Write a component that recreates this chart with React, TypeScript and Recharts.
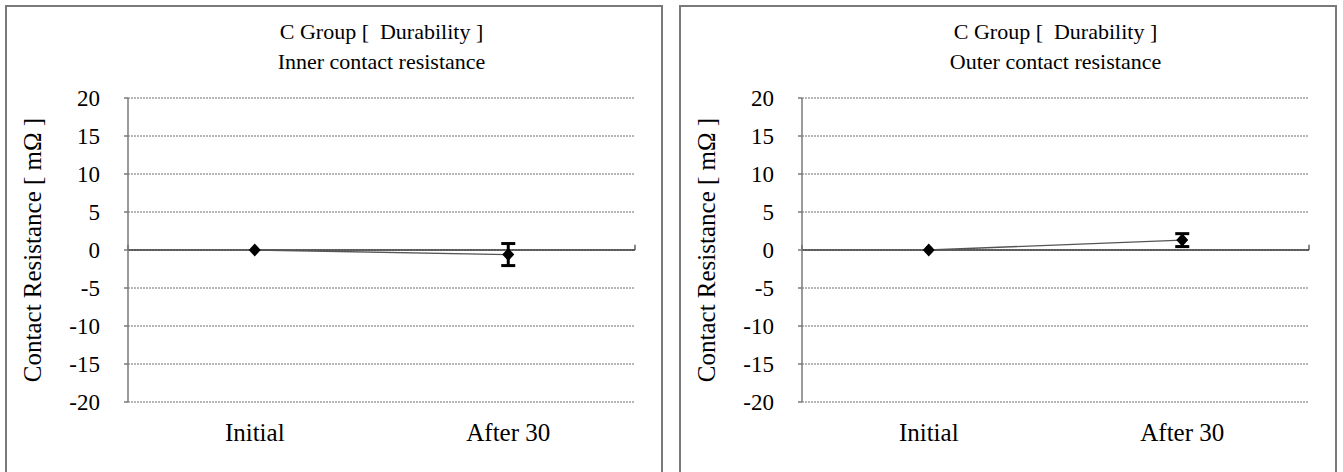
import type { FC } from 'react';
import { CartesianGrid, ErrorBar, Label, Line, LineChart, ReferenceArea, ReferenceLine, XAxis, YAxis } from 'recharts';

const categories = ['Initial', 'After 30'];
const innerMean = [0, -0.6];
const innerErr = [0, 1.45];
const outerMean = [0, 1.3];
const outerErr = [0, 0.85];
const yTicks = [-20, -15, -10, -5, 0, 5, 10, 15, 20];

const groupTitle = 'C Group [\u00a0 Durability ]';
const yTitle = 'Contact Resistance [ mΩ ]';

const serif = "'Liberation Serif', 'DejaVu Serif', 'Noto Serif', Tinos, 'Times New Roman', Times, serif";
const W = 658;
const H = 467;

const Diamond = (props: any) => {
	const { cx, cy, index } = props;
	if (cx == null || cy == null) return null;
	return <path key={`d-${index}`} d={`M${cx},${cy - 6.5} L${cx + 6},${cy} L${cx},${cy + 6.5} L${cx - 6},${cy} Z`} fill='#000' />;
};

interface IPanel {
	left: number;
	subtitle: string;
	means: number[];
	errs: number[];
}

const Panel: FC<IPanel> = ({ left, subtitle, means, errs }) => {
	const data = categories.map((name, i) => ({ name, value: means[i], err: errs[i] || null }));
	const bounds = categories.map((_, i) => i + 1).concat([0]);
	return (
		<div style={{ position: 'absolute', left, top: 5, width: W, height: H }}>
			<div
				style={{
					position: 'absolute',
					left: 0,
					top: 0,
					width: W,
					height: 480,
					border: '2px solid #7a7a7a',
					boxSizing: 'border-box'
				}}
			/>
			<div
				style={{
					position: 'absolute',
					left: 123,
					width: 507,
					top: 12,
					textAlign: 'center',
					fontFamily: serif,
					fontSize: 22,
					lineHeight: '30px',
					color: '#000'
				}}
			>
				<div>{groupTitle}</div>
				<div>{subtitle}</div>
			</div>
			<LineChart width={W} height={H} data={data} margin={{ top: 93, right: 28, bottom: 30, left: 0 }}>
				<CartesianGrid vertical={false} stroke='#6e6e6e' strokeDasharray='2 1' />
				<XAxis
					dataKey='name'
					scale='band'
					height={40}
					axisLine={false}
					tickLine={false}
					tickSize={0}
					tickMargin={21}
					tick={{ fill: '#000', fontFamily: serif, fontSize: 25 }}
				/>
				<XAxis xAxisId='grid' type='number' domain={[0, categories.length]} allowDataOverflow hide />
				<YAxis
					width={123}
					domain={[-20, 20]}
					ticks={yTicks}
					interval={0}
					allowDataOverflow
					axisLine={{ stroke: '#7a7a7a', strokeWidth: 1.5 }}
					tickLine={{ stroke: '#7a7a7a', strokeWidth: 1.5 }}
					tickSize={4}
					tickMargin={24}
					tick={{ fill: '#000', fontFamily: serif, fontSize: 23 }}
				>
					<Label
						content={(p: any) => {
							const vb = p.viewBox || { x: 0, y: 93, width: 123, height: 304 };
							const x = vb.x + 36;
							const y = vb.y + vb.height / 2;
							return (
								<text
									x={x}
									y={y}
									transform={`rotate(-90 ${x} ${y})`}
									textAnchor='middle'
									fontFamily={serif}
									fontSize={25}
									fill='#000'
								>
									{yTitle}
								</text>
							);
						}}
					/>
				</YAxis>
				<ReferenceArea
					xAxisId='grid'
					x1={0}
					x2={categories.length}
					y1={-20}
					y2={20}
					fill='none'
					stroke='#7a7a7a'
					strokeWidth={1.5}
				/>
				<ReferenceLine y={0} stroke='#3a3a3a' strokeWidth={1.5} />
				{bounds.map(b => (
					<ReferenceLine
						key={b}
						xAxisId='grid'
						segment={[
							{ x: b, y: 0 },
							{ x: b, y: 0.7 }
						]}
						stroke='#3a3a3a'
						strokeWidth={1.2}
					/>
				))}
				<Line
					dataKey='value'
					stroke='#555'
					strokeWidth={1.3}
					dot={Diamond}
					activeDot={false}
					isAnimationActive={false}
				>
					<ErrorBar dataKey='err' direction='y' width={7} stroke='#000' strokeWidth={3} />
				</Line>
			</LineChart>
		</div>
	);
};

const App: FC = () => (
	<div style={{ position: 'absolute', left: 0, top: 0, width: 1343, height: 472, background: '#fff', overflow: 'hidden' }}>
		<Panel left={5} subtitle='Inner contact resistance' means={innerMean} errs={innerErr} />
		<Panel left={679} subtitle='Outer contact resistance' means={outerMean} errs={outerErr} />
	</div>
);

export default App;
